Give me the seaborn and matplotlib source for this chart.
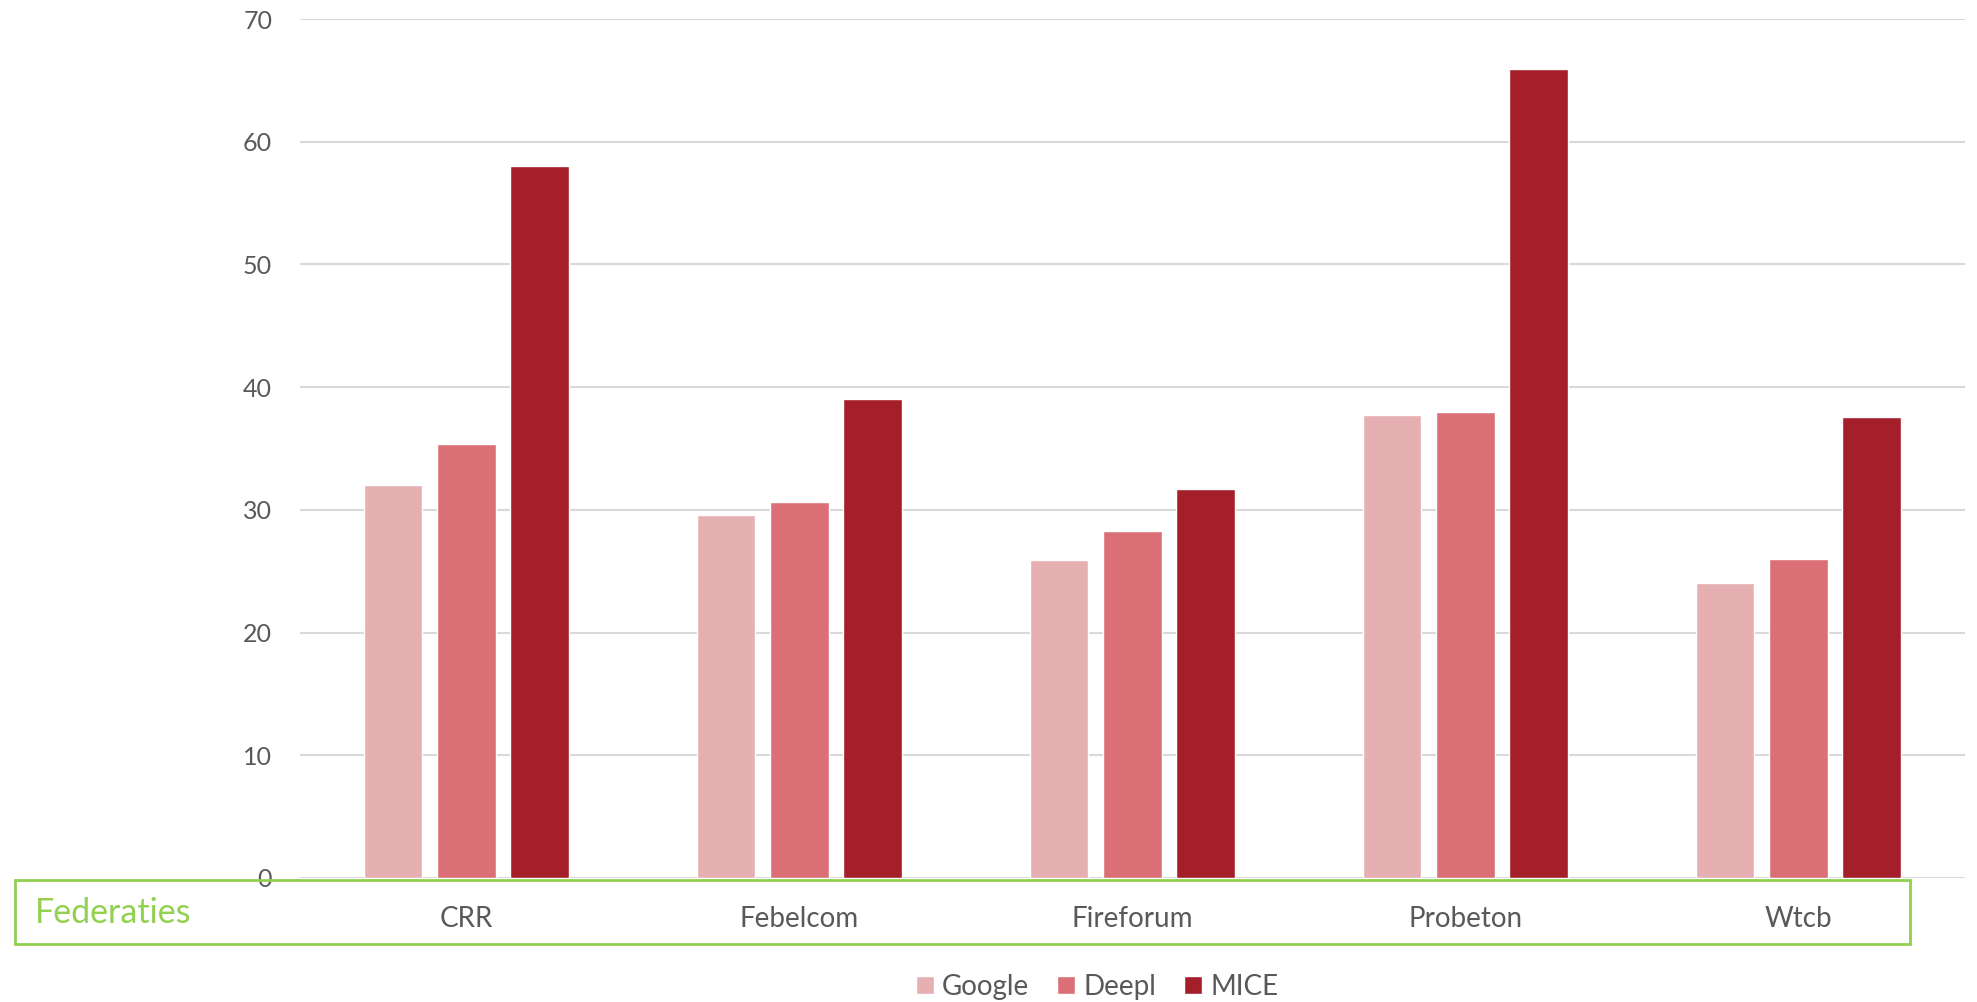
import pandas as pd
import seaborn as sns
import matplotlib.pyplot as plt
from matplotlib.patches import Rectangle, Patch

# Scores per federation
federaties = ['CRR', 'Febelcom', 'Fireforum', 'Probeton', 'Wtcb']
google = [32.0, 29.6, 25.9, 37.7, 24.0]
deepl = [35.4, 30.6, 28.3, 38.0, 26.0]
mice = [58.0, 39.0, 31.7, 65.9, 37.6]
systems = ['Google', 'Deepl', 'MICE']
colors = ['#E6B0B3', '#DA7075', '#A51F2A']

rows = []
for name, vals in zip(systems, [google, deepl, mice]):
    for fed, v in zip(federaties, vals):
        rows.append({'Federaties': fed, 'Systeem': name, 'Score': v})
data = pd.DataFrame(rows)

sns.set_style('white')
plt.rcParams['font.family'] = ['Lato', 'DejaVu Sans']
grey = '#595959'

fig = plt.figure(figsize=(19.77, 10.02), dpi=100)
ax = fig.add_axes([0.1517, 0.1238, 0.8422, 0.8572])

sns.barplot(data=data, x='Federaties', y='Score', hue='Systeem',
            palette=colors, order=federaties, hue_order=systems,
            width=0.66, gap=0.2, saturation=1, ax=ax, legend=False)

ax.set_ylim(0, 70)
ax.set_xlim(-0.5, 4.5)
ax.set_yticks(range(0, 71, 10))
ax.yaxis.grid(True, color='#D9D9D9', linewidth=1.5)
ax.set_axisbelow(True)
for s in ax.spines.values():
    s.set_visible(False)
ax.set_xlabel('')
ax.set_ylabel('')
ax.tick_params(axis='y', length=0, pad=20, labelsize=18, labelcolor=grey)
ax.tick_params(axis='x', length=0, pad=20, labelsize=20, labelcolor=grey)

# green box around the category labels
fig.patches.append(Rectangle((0.0076, 0.0579), 0.9585, 0.0639, transform=fig.transFigure,
                             fill=False, edgecolor='#92D050', linewidth=2))
fig.text(0.0177, 0.0889, 'Federaties', color='#92D050', fontsize=24.5, va='center', ha='left')

handles = [Patch(facecolor=c, label=l) for c, l in zip(colors, systems)]
fig.legend(handles=handles, loc='center', bbox_to_anchor=(0.555, 0.015), ncol=3,
           frameon=False, fontsize=20, labelcolor=grey, handlelength=0.65, handleheight=0.65,
           handletextpad=0.3, columnspacing=1.0)

fig.savefig('out.png', dpi=100)
